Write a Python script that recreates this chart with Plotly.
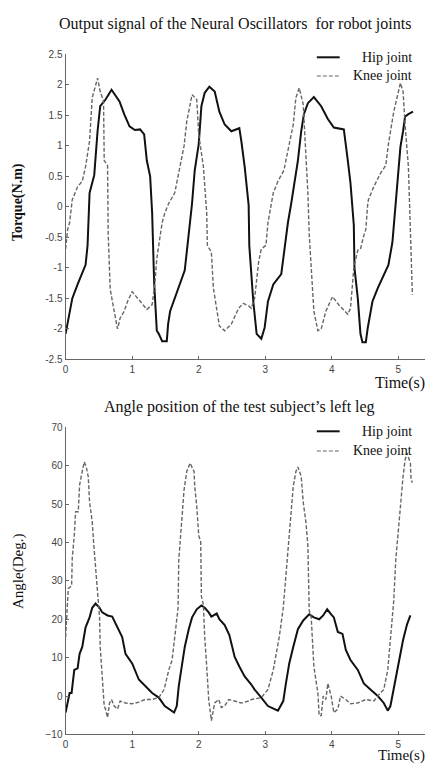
import plotly.graph_objects as go

# page body has an 8px default margin; the figure is shrunk by it so it fits the window
PAGE_MARGIN = 8
W, H = 433 - PAGE_MARGIN, 768 - PAGE_MARGIN

# ---------------- data: top plot (torque) ----------------
t_hip_top = [0, 0.03, 0.10, 0.18, 0.25, 0.30, 0.33, 0.36, 0.43, 0.48, 0.52, 0.60, 0.69, 0.81, 0.88, 0.96,
             1.04, 1.12, 1.18, 1.22, 1.27, 1.30, 1.33, 1.37, 1.40, 1.45, 1.52, 1.54, 1.57, 1.64, 1.72, 1.79,
             1.82, 1.87, 1.90, 1.94, 2.00, 2.04, 2.09, 2.16, 2.24, 2.31, 2.39, 2.49, 2.61, 2.64, 2.69, 2.75,
             2.76, 2.82, 2.87, 2.94, 2.99, 3.04, 3.12, 3.24, 3.28, 3.34, 3.39, 3.43, 3.49, 3.54, 3.58, 3.64,
             3.73, 3.84, 3.94, 4.03, 4.18, 4.24, 4.28, 4.33, 4.34, 4.39, 4.43, 4.46, 4.51, 4.54, 4.61, 4.69,
             4.78, 4.85, 4.91, 4.96, 4.99, 5.03, 5.07, 5.10, 5.15, 5.22]
v_hip_top = [-2.08, -1.92, -1.5, -1.27, -1.1, -0.95, -0.63, 0.23, 0.52, 1.24, 1.65, 1.76, 1.92, 1.73, 1.52, 1.32,
             1.26, 1.27, 1.19, 0.76, 0.5, -0.1, -1.23, -2.03, -2.08, -2.2, -2.2, -1.92, -1.71, -1.5, -1.23, -1.04,
             -0.74, -0.26, 0.06, 0.6, 1.03, 1.65, 1.87, 1.97, 1.89, 1.56, 1.35, 1.24, 1.29, 1.08, 0.66, 0.03,
             -0.64, -1.55, -2.08, -2.16, -1.98, -1.55, -1.27, -1.1, -0.74, -0.26, 0.06, 0.33, 0.76, 1.24, 1.52, 1.7,
             1.8, 1.65, 1.44, 1.3, 1.27, 0.76, 0.39, -0.3, -1.0, -1.5, -2.08, -2.22, -2.22, -1.98, -1.55, -1.33,
             -1.12, -0.95, -0.58, 0.06, 0.44, 0.98, 1.24, 1.48, 1.52, 1.56]

t_knee_top = [0, 0.03, 0.06, 0.10, 0.18, 0.25, 0.30, 0.36, 0.40, 0.48, 0.52, 0.57, 0.58, 0.63, 0.64, 0.67,
              0.73, 0.78, 0.82, 0.88, 0.93, 1.00, 1.10, 1.22, 1.30, 1.34, 1.37, 1.40, 1.45, 1.49, 1.55, 1.64,
              1.70, 1.78, 1.82, 1.90, 1.97, 2.00, 2.07, 2.12, 2.13, 2.19, 2.22, 2.27, 2.31, 2.39, 2.49, 2.60,
              2.67, 2.76, 2.79, 2.84, 2.90, 2.94, 3.01, 3.04, 3.09, 3.12, 3.19, 3.28, 3.34, 3.42, 3.46, 3.51,
              3.57, 3.61, 3.64, 3.66, 3.69, 3.73, 3.79, 3.84, 3.91, 4.01, 4.10, 4.24, 4.28, 4.33, 4.39, 4.43,
              4.48, 4.51, 4.54, 4.55, 4.63, 4.73, 4.81, 4.85, 4.93, 4.99, 5.03, 5.07, 5.10, 5.15, 5.18, 5.21]
v_knee_top = [-0.69, -0.37, -0.26, 0.12, 0.33, 0.42, 0.66, 1.08, 1.79, 2.11, 1.89, 1.73, 0.76, 0.68, -0.45, -1.35,
              -1.71, -2.0, -1.82, -1.71, -1.55, -1.39, -1.52, -1.68, -1.6, -1.27, -0.85, -0.63, -0.26, -0.1, 0.06, 0.23,
              0.55, 1.0, 1.4, 1.84, 1.76, 1.19, 0.66, -0.1, -0.63, -0.74, -1.33, -1.66, -1.95, -2.03, -1.92, -1.66,
              -1.58, -1.63, -1.66, -1.5, -0.9, -0.69, -0.63, -0.26, 0.06, 0.23, 0.42, 0.6, 0.92, 1.35, 1.79, 1.95,
              1.68, 0.92, 0.23, -0.45, -1.0, -1.71, -2.03, -2.0, -1.71, -1.47, -1.6, -1.76, -1.66, -1.0, -0.71, -0.69,
              -0.47, -0.37, 0.06, 0.12, 0.33, 0.55, 0.68, 1.03, 1.56, 1.84, 2.03, 1.89, 1.35, 0.66, -0.55, -1.44]

# ---------------- data: bottom plot (angle) ----------------
t_knee_bot = [0, 0.03, 0.04, 0.09, 0.10, 0.13, 0.15, 0.19, 0.21, 0.24, 0.28, 0.31, 0.34, 0.36, 0.40, 0.42,
              0.45, 0.48, 0.51, 0.52, 0.55, 0.58, 0.60, 0.63, 0.66, 0.69, 0.73, 0.78, 0.82, 0.90, 1.00, 1.10,
              1.19, 1.30, 1.40, 1.48, 1.55, 1.60, 1.64, 1.69, 1.70, 1.75, 1.78, 1.82, 1.87, 1.93, 1.94, 1.97,
              2.00, 2.03, 2.04, 2.07, 2.09, 2.12, 2.15, 2.19, 2.24, 2.30, 2.34, 2.39, 2.45, 2.54, 2.64, 2.75,
              2.79, 2.94, 3.04, 3.12, 3.16, 3.21, 3.27, 3.31, 3.34, 3.39, 3.42, 3.46, 3.49, 3.54, 3.57, 3.61,
              3.64, 3.66, 3.69, 3.73, 3.79, 3.81, 3.84, 3.87, 3.91, 3.94, 3.99, 4.03, 4.09, 4.13, 4.21, 4.28,
              4.39, 4.51, 4.63, 4.73, 4.78, 4.84, 4.88, 4.93, 4.96, 5.00, 5.03, 5.07, 5.10, 5.13, 5.18, 5.19, 5.21]
v_knee_bot = [15.4, 23, 28, 28.7, 36, 41.8, 48, 48, 55, 57.7, 61, 59.7, 57.2, 50.5, 45.4, 40.2,
              33, 27.4, 20.5, 12.8, 6, -2.6, -3.4, -5.6, -1.8, -0.9, -2.6, -3.4, -1.3, -1.8, -2, -1.6,
              -0.9, -0.9, -0.4, 1.7, 6.8, 9.4, 15.4, 23, 35.4, 48, 53.8, 58.5, 60.7, 58.5, 54.6, 49.5,
              41.8, 40.2, 26, 23.8, 15.4, 7.7, -0.9, -6.4, -1.8, -0.9, -3, -2.6, -0.9, -1.3, -1.8, -1.3,
              -0.9, -0.4, 1.7, 6.8, 10.2, 15.4, 23, 31.5, 39.2, 49.5, 54.6, 58.5, 59.7, 57.2, 50.5, 45.4,
              39.2, 22.3, 20.5, 7.7, 0.8, -5.1, -5.1, 0, -0.9, 3.3, 0, -4.3, -3.4, 0, -0.9, -2,
              -1.8, -0.9, -1.3, 0.8, 1.7, 6.8, 15.4, 24.8, 35.4, 43.6, 50.5, 57.2, 61.5, 63.3, 60.7, 56.4, 55.6]

t_hip_bot = [0, 0.03, 0.06, 0.09, 0.13, 0.18, 0.21, 0.25, 0.30, 0.36, 0.40, 0.45, 0.51, 0.55, 0.63, 0.70,
             0.78, 0.85, 0.90, 1.00, 1.10, 1.19, 1.30, 1.40, 1.49, 1.63, 1.67, 1.70, 1.75, 1.79, 1.85, 1.90,
             1.97, 2.04, 2.09, 2.15, 2.19, 2.27, 2.31, 2.39, 2.46, 2.54, 2.61, 2.69, 2.79, 2.84, 2.94, 3.04,
             3.19, 3.27, 3.31, 3.36, 3.42, 3.49, 3.57, 3.66, 3.73, 3.81, 3.87, 3.93, 3.99, 4.03, 4.09, 4.16,
             4.21, 4.28, 4.39, 4.48, 4.58, 4.69, 4.78, 4.84, 4.88, 4.93, 4.99, 5.03, 5.07, 5.13, 5.18]
v_hip_bot = [-4.3, -1.8, 0.8, 0.8, 6.8, 7.2, 11, 12.8, 17.9, 20.5, 23, 24.1, 23, 21.8, 21, 20.7,
             17.9, 15.4, 11, 8.5, 4.3, 2.6, 0.8, -0.4, -2.6, -4.3, -2.6, 2.6, 7.7, 12.8, 17.4, 20.5,
             22.6, 23.6, 23, 21.8, 20.7, 21.5, 20, 18.5, 15.9, 10.2, 7.7, 5.1, 3, 1.7, -0.4, -2.6,
             -3.8, -1.3, 3.3, 8.5, 12.8, 17.4, 19.7, 21.3, 20.5, 20, 21, 22.6, 21.3, 20.5, 16.7, 16.2,
             12, 9.4, 6.8, 3.3, 1.7, 0, -1.8, -3.8, -2.6, 1.7, 7.7, 11, 14.6, 18.7, 21]

x_ticks = [0, 1, 2, 3, 4, 5]
y_ticks_top = [-2.5, -2, -1.5, -1, -0.5, 0, 0.5, 1, 1.5, 2, 2.5]
y_ticks_top_text = ["-2.5", "-2", "-1.5", "-1", "-0.5", "0", "0.5", "1", "1.5", "2", "2.5"]
y_ticks_bot = [-10, 0, 10, 20, 30, 40, 50, 60, 70]

title_top = "Output signal of the Neural Oscillators  for robot joints"
title_bot = "Angle position of the test subject\u2019s left leg"
legend_names = ["Hip joint", "Knee joint"]

HIP_COLOR = "#111111"
KNEE_COLOR = "#666666"
SERIF = "Liberation Serif, Times New Roman, serif"
SANS = "Liberation Sans, Arial, sans-serif"


def px_x(p):
    # p: pixel position in the window
    return (p - PAGE_MARGIN) / W


def px_y(p):
    return 1 - (p - PAGE_MARGIN) / H


fig = go.Figure()
fig.add_trace(go.Scatter(x=t_hip_top, y=v_hip_top, mode="lines", name=legend_names[0],
                         line=dict(color=HIP_COLOR, width=2), xaxis="x", yaxis="y"))
fig.add_trace(go.Scatter(x=t_knee_top, y=v_knee_top, mode="lines", name=legend_names[1],
                         line=dict(color=KNEE_COLOR, width=1.4, dash="4px,2px"), xaxis="x", yaxis="y"))
fig.add_trace(go.Scatter(x=t_hip_bot, y=v_hip_bot, mode="lines", name=legend_names[0],
                         line=dict(color=HIP_COLOR, width=2), xaxis="x2", yaxis="y2"))
fig.add_trace(go.Scatter(x=t_knee_bot, y=v_knee_bot, mode="lines", name=legend_names[1],
                         line=dict(color=KNEE_COLOR, width=1.4, dash="4px,2px"), xaxis="x2", yaxis="y2"))

axis_common = dict(showgrid=False, zeroline=False, showline=True, linecolor="#666666", linewidth=1.2,
                   ticks="inside", ticklen=3, tickcolor="#666666",
                   tickfont=dict(family=SANS, size=10, color="#444444"))

xdom = [px_x(63), min(1.0, px_x(431))]
fig.update_layout(
    width=W, height=H, showlegend=False,
    paper_bgcolor="white", plot_bgcolor="white",
    margin=dict(l=0, r=0, t=0, b=0),
    xaxis=dict(domain=xdom, range=[0, 5.49], tickvals=x_ticks, anchor="y", **axis_common),
    yaxis=dict(domain=[px_y(359), px_y(49)], range=[-2.5, 2.5], tickvals=y_ticks_top,
               ticktext=y_ticks_top_text, anchor="x", **axis_common),
    xaxis2=dict(domain=xdom, range=[0, 5.49], tickvals=x_ticks, anchor="y2", **axis_common),
    yaxis2=dict(domain=[px_y(740), px_y(428)], range=[-10, 70], tickvals=y_ticks_bot, anchor="x2", **axis_common),
)

annotations = [
    dict(text=title_top, x=px_x(234), y=px_y(18), font=dict(family=SERIF, size=16, color="#111")),
    dict(text=title_bot, x=px_x(238), y=px_y(407), font=dict(family=SERIF, size=16, color="#111")),
    dict(text="<b>Torque(N.m)</b>", x=px_x(15), y=px_y(199), textangle=-90,
         font=dict(family=SERIF, size=14, color="#111")),
    dict(text="Angle(Deg.)", x=px_x(15), y=px_y(574), textangle=-90,
         font=dict(family=SERIF, size=15, color="#111")),
    dict(text="Time(s)", x=px_x(400), y=px_y(383), font=dict(family=SERIF, size=16, color="#111")),
    dict(text="Time(s)", x=px_x(401), y=px_y(761), font=dict(family=SERIF, size=15, color="#111")),
]
shapes = []
for ly_hip, ly_knee in [(52, 70), (432, 451)]:
    annotations.append(dict(text=legend_names[0], x=px_x(414), y=px_y(ly_hip), xanchor="right",
                            font=dict(family=SERIF, size=14, color="#111")))
    annotations.append(dict(text=legend_names[1], x=px_x(414), y=px_y(ly_knee), xanchor="right",
                            font=dict(family=SERIF, size=14, color="#111")))
    shapes.append(dict(type="line", xref="paper", yref="paper", x0=px_x(316), x1=px_x(339),
                       y0=px_y(ly_hip), y1=px_y(ly_hip), line=dict(color=HIP_COLOR, width=2)))
    shapes.append(dict(type="line", xref="paper", yref="paper", x0=px_x(316), x1=px_x(339),
                       y0=px_y(ly_knee + 1), y1=px_y(ly_knee + 1),
                       line=dict(color=KNEE_COLOR, width=1.2, dash="4px,2px")))

for a in annotations:
    a.setdefault("xref", "paper")
    a.setdefault("yref", "paper")
    a.setdefault("showarrow", False)
    a.setdefault("xanchor", "center")
    a.setdefault("yanchor", "middle")

fig.update_layout(annotations=annotations, shapes=shapes)
fig.write_html("out.html")
